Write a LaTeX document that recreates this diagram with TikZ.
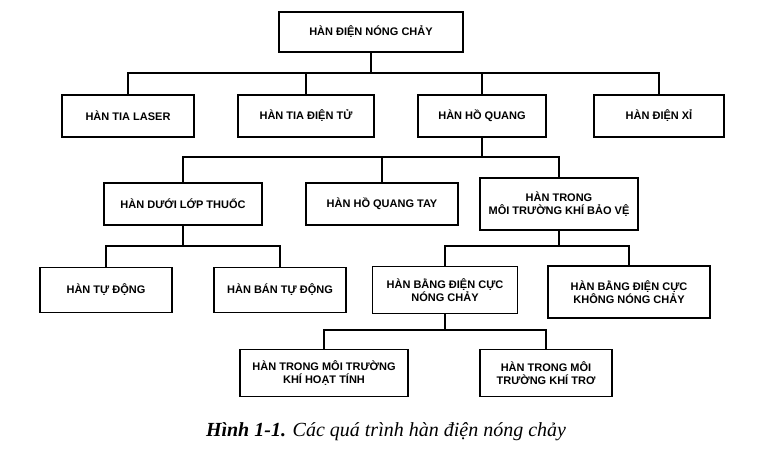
\documentclass[tikz,border=0pt]{standalone}
\usepackage{fontspec}
\setmainfont{Liberation Sans}
\newfontfamily\capfont{Liberation Serif}
\begin{document}
\begin{tikzpicture}[x=1pt,y=-1pt,
  box/.style={draw,line width=1.6pt,align=center,font=\bfseries\fontsize{11}{13.5}\selectfont,inner sep=0pt},
  conn/.style={line width=1.3pt}]
\useasboundingbox[fill=white] (0,0) rectangle (768,450);
\node[box,minimum width=184,minimum height=40] (top) at (371,32) {HÀN ĐIỆN NÓNG CHẢY};
\node[box,minimum width=132,minimum height=42] (laser) at (128,116) {HÀN TIA LASER};
\node[box,minimum width=136,minimum height=42] (dientu) at (306,116) {HÀN TIA ĐIỆN TỬ};
\node[box,minimum width=128,minimum height=42] (hoquang) at (482,116) {HÀN HỒ QUANG};
\node[box,minimum width=130,minimum height=42] (xi) at (659,116) {HÀN ĐIỆN XỈ};
\node[box,minimum width=158,minimum height=42] (duoi) at (183,204) {HÀN DƯỚI LỚP THUỐC};
\node[box,minimum width=152,minimum height=42] (tay) at (382,204) {HÀN HỒ QUANG TAY};
\node[box,minimum width=158,minimum height=52] (khi) at (559,204) {HÀN TRONG\\MÔI TRƯỜNG KHÍ BẢO VỆ};
\node[box,minimum width=132,minimum height=45] (tudong) at (106,290) {HÀN TỰ ĐỘNG};
\node[box,minimum width=132,minimum height=45] (bantd) at (280,290) {HÀN BÁN TỰ ĐỘNG};
\node[box,minimum width=145,minimum height=47] (nc) at (445,290) {HÀN BẰNG ĐIỆN CỰC\\NÓNG CHẢY};
\node[box,minimum width=162,minimum height=52] (knc) at (629,292) {HÀN BẰNG ĐIỆN CỰC\\KHÔNG NÓNG CHẢY};
\node[box,minimum width=168,minimum height=47] (ht) at (324,373) {HÀN TRONG MÔI TRƯỜNG\\KHÍ HOẠT TÍNH};
\node[box,minimum width=132,minimum height=47] (tro) at (546,373) {HÀN TRONG MÔI\\TRƯỜNG KHÍ TRƠ};
\draw[conn] (top.south) -- (371,73);
\draw[conn] (laser.north) |- (371,73) -| (xi.north);
\draw[conn] (dientu.north) -- (306,73);
\draw[conn] (hoquang.north) -- (482,73);
\draw[conn] (hoquang.south) -- (482,157);
\draw[conn] (duoi.north) |- (482,157) -| (khi.north);
\draw[conn] (tay.north) -- (382,157);
\draw[conn] (duoi.south) -- (183,246);
\draw[conn] (tudong.north) |- (183,246) -| (bantd.north);
\draw[conn] (khi.south) -- (559,246);
\draw[conn] (nc.north) |- (559,246) -| (knc.north);
\draw[conn] (nc.south) -- (445,330);
\draw[conn] (ht.north) |- (445,330) -| (tro.north);
\node[font=\capfont\itshape\fontsize{20}{22}\selectfont] (cap) at (386,432) {\textbf{Hình 1-1.} Các quá trình hàn điện nóng chảy};
\end{tikzpicture}
\end{document}
